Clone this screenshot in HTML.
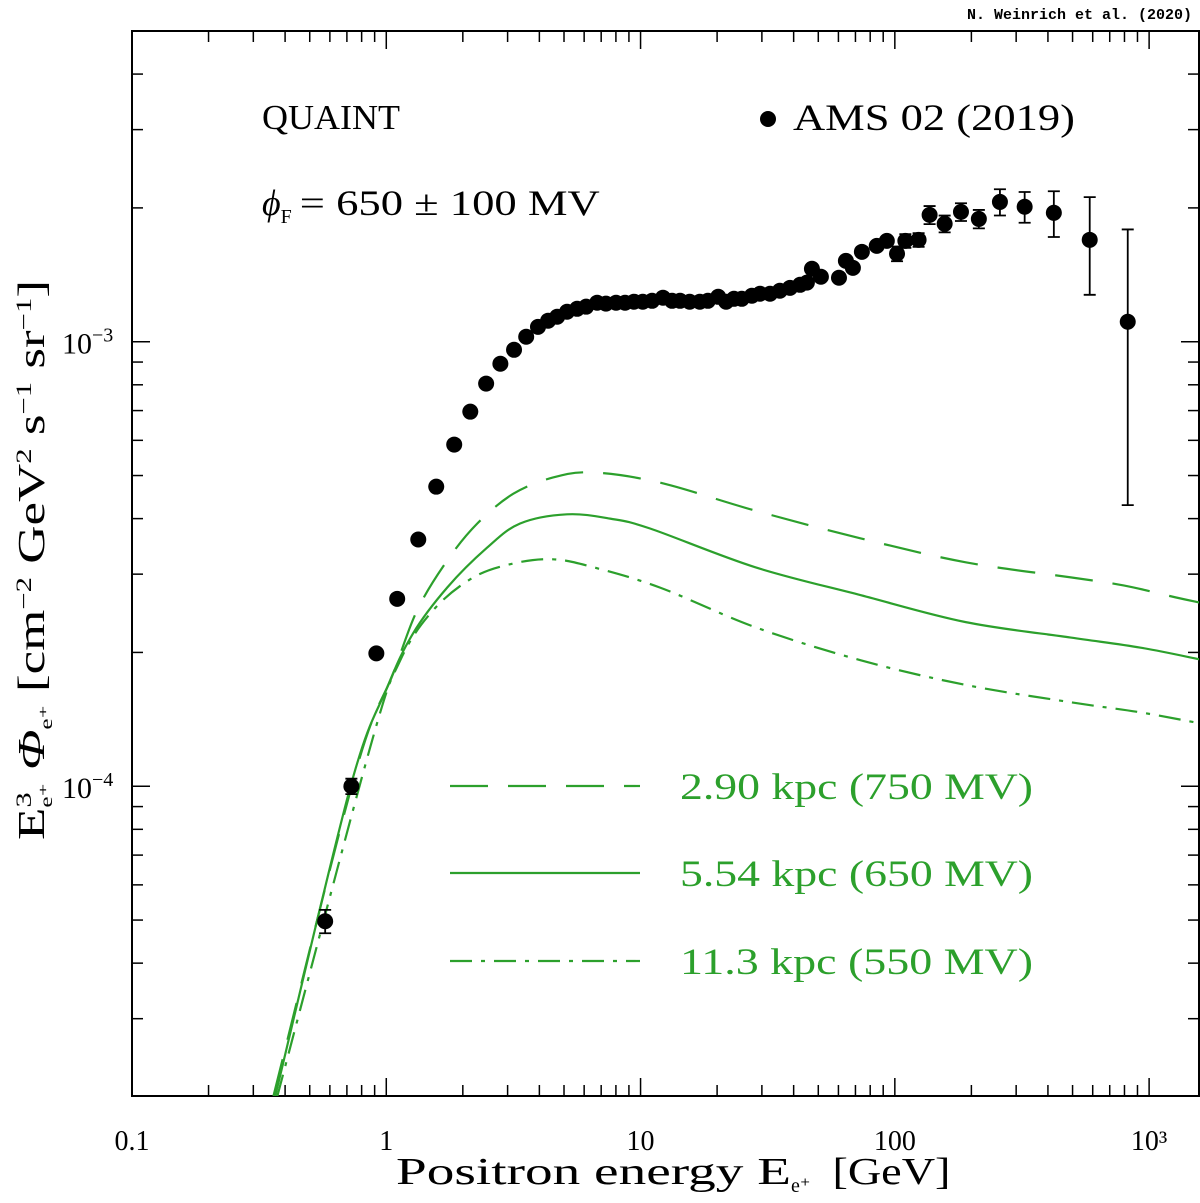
<!DOCTYPE html>
<html><head><meta charset="utf-8"><style>
body{margin:0;background:#fff;}
svg{display:block;font-family:"Liberation Serif",serif;}
</style></head><body>
<svg id="chart" width="1200" height="1203" viewBox="0 0 1200 1203" xmlns="http://www.w3.org/2000/svg">
<text x="1192" y="19" text-anchor="end" font-family="Liberation Mono, monospace" font-size="15" font-weight="bold">N. Weinrich et al. (2020)</text>
<g id="axes"></g>
<g id="curves"></g>
<g id="points"></g>
<text x="262" y="129" font-size="35" textLength="138" lengthAdjust="spacingAndGlyphs">QUAINT</text>
<text x="262" y="215" font-size="36"><tspan font-style="italic">ϕ</tspan><tspan font-size="20" dy="8">F</tspan><tspan dy="-8" dx="8" textLength="300" lengthAdjust="spacingAndGlyphs">= 650 ± 100 MV</tspan></text>
<circle cx="768" cy="119" r="8" fill="#000"/>
<text x="793" y="130" font-size="37" textLength="282" lengthAdjust="spacingAndGlyphs">AMS 02 (2019)</text>
<g id="legend" font-size="37" fill="#2ca02c"></g>
<text x="396" y="1184" font-size="38"><tspan textLength="395" lengthAdjust="spacingAndGlyphs">Positron energy E</tspan><tspan font-size="20" dy="8">e⁺</tspan><tspan dy="-8" dx="22" textLength="118" lengthAdjust="spacingAndGlyphs">[GeV]</tspan></text>
<text transform="translate(44,560) rotate(-90)" text-anchor="middle" font-size="38" textLength="560" lengthAdjust="spacingAndGlyphs">E<tspan font-size="22" dy="-13">3</tspan><tspan font-size="18" dx="-11" dy="21">e⁺</tspan><tspan dy="-8" font-style="italic"> Φ</tspan><tspan font-size="18" dy="8">e⁺</tspan><tspan dy="-8">   [cm</tspan><tspan font-size="22" dy="-13">−2</tspan><tspan dy="13"> GeV</tspan><tspan font-size="22" dy="-13">2</tspan><tspan dy="13"> s</tspan><tspan font-size="22" dy="-13">−1</tspan><tspan dy="13"> sr</tspan><tspan font-size="22" dy="-13">−1</tspan><tspan dy="13">]</tspan></text>
</svg>
<script>
// ---- data ----
const dataE = [0.575,0.729,0.914,1.104,1.336,1.572,1.85,2.14,2.47,2.81,3.18,3.55,3.95,4.33,4.70,5.14,5.63,6.11,6.75,7.31,8.01,8.69,9.42,10.2,11.1,12.25,13.3,14.3,15.6,17.1,18.4,20.2,21.7,23.3,25.0,27.4,29.5,32.3,35.3,38.7,42.4,45.1,47.2,51.2,60.3,64.2,68.4,74.2,84.9,93.0,102,110,124,137,157,182,214,259,324,422,584,824];
const dataFlux = [0.0497,0.100,0.199,0.264,0.359,0.472,0.587,0.696,0.805,0.892,0.959,1.026,1.08,1.115,1.138,1.168,1.186,1.199,1.224,1.218,1.224,1.224,1.23,1.23,1.236,1.256,1.236,1.236,1.23,1.23,1.236,1.262,1.23,1.249,1.249,1.269,1.282,1.282,1.302,1.322,1.343,1.358,1.459,1.40,1.393,1.52,1.466,1.593,1.643,1.686,1.577,1.686,1.695,1.929,1.842,1.959,1.889,2.063,2.012,1.950,1.695,1.109];
const dataErr = [0.003,0.004,0,0,0,0,0,0,0,0,0,0,0,0,0,0,0,0,0,0,0,0,0,0,0,0,0,0,0,0,0,0,0,0,0,0,0,0,0,0,0,0,0,0,0,0,0,0,0,0,0.06,0.06,0.06,0.09,0.08,0.09,0.09,0.14,0.16,0.23,0.42,0.68];
const dashedE = [0.360,0.755,1.065,1.324,1.737,2.28,3.16,4.53,6.51,11.9,28.2,73.5,190,492,794,1271,1578];
const dashedFlux = [0.0201,0.107,0.1795,0.249,0.322,0.390,0.455,0.495,0.508,0.482,0.417,0.361,0.319,0.295,0.283,0.266,0.259];
const solidE = [0.366,0.722,1.009,1.276,1.737,2.49,3.36,5.14,7.59,10.9,28.2,73.5,190,492,926,1578];
const solidFlux = [0.0201,0.0995,0.167,0.221,0.280,0.344,0.390,0.409,0.400,0.380,0.311,0.269,0.234,0.216,0.205,0.193];
const dashdotE = [0.373,0.865,1.135,1.530,2.20,3.16,4.53,6.51,11.9,28.2,73.5,190,492,926,1578];
const dashdotFlux = [0.0201,0.1225,0.192,0.249,0.295,0.317,0.324,0.311,0.280,0.228,0.192,0.169,0.1545,0.1466,0.1386];
const xTickValues = [0.1,1,10,100,1000];
const xTickLabels = ["0.1","1","10","100","10³"];
const yTickValues = [0.1,1];
const yTickExps = ["−4","−3"];
const legendLabels = ["2.90 kpc (750 MV)","5.54 kpc (650 MV)","11.3 kpc (550 MV)"];
// ---- axes ----
const L=132,R=1199,T=31,B=1096;
const xMin=0.1, xMax=1571, yMin=0.0201, yMax=5.0;
function X(e){return L+(Math.log10(e)-Math.log10(xMin))/(Math.log10(xMax)-Math.log10(xMin))*(R-L);}
function Y(v){return B-(Math.log10(v)-Math.log10(yMin))/(Math.log10(yMax)-Math.log10(yMin))*(B-T);}
const NS="http://www.w3.org/2000/svg";
function mk(tag,attrs,parent){const el=document.createElementNS(NS,tag);for(const k in attrs)el.setAttribute(k,attrs[k]);parent.appendChild(el);return el;}
const axes=document.getElementById('axes');
const frame=mk('rect',{x:L,y:T,width:R-L,height:B-T,fill:'none',stroke:'#000','stroke-width':2},axes);


for(let d=-1;d<=3;d++){for(let m=1;m<=9;m++){const e=m*Math.pow(10,d);if(e>xMax)continue;const x=X(e);const len=m===1?18:11;
const t1=mk('line',{x1:x,y1:B,x2:x,y2:B-len,stroke:'#000','stroke-width':1.5},axes);


const t2=mk('line',{x1:x,y1:T,x2:x,y2:T+len,stroke:'#000','stroke-width':1.5},axes);

}}
xTickValues.forEach((v,i)=>{const t=mk('text',{x:X(v),y:1150,'text-anchor':'middle','font-size':28},axes);t.textContent=xTickLabels[i];

});
for(let d=-2;d<=1;d++){for(let m=1;m<=9;m++){const v=m*Math.pow(10,d);if(v<yMin||v>yMax)continue;const y=Y(v);const len=m===1?18:11;
const t1=mk('line',{x1:L,y1:y,x2:L+len,y2:y,stroke:'#000','stroke-width':1.5},axes);


const t2=mk('line',{x1:R,y1:y,x2:R-len,y2:y,stroke:'#000','stroke-width':1.5},axes);

}}
yTickValues.forEach((v,i)=>{const t=mk('text',{x:62,y:Y(v)+12,'font-size':30},axes);
const a=mk('tspan',{},t);a.textContent='10';
const b=mk('tspan',{'font-size':20,dy:-12},t);b.textContent=yTickExps[i];

});
// curves
const defs=mk('defs',{},document.getElementById('chart'));
const cp=mk('clipPath',{id:'clip'},defs);mk('rect',{x:L,y:T,width:R-L,height:B-T},cp);
function smoothPath(es,vs){const p=es.map((e,i)=>[X(e),Y(vs[i])]);let d='M'+p[0][0]+','+p[0][1];
for(let i=0;i<p.length-1;i++){const p0=p[Math.max(0,i-1)],p1=p[i],p2=p[i+1],p3=p[Math.min(p.length-1,i+2)];
const c1=[p1[0]+(p2[0]-p0[0])/6,p1[1]+(p2[1]-p0[1])/6],c2=[p2[0]-(p3[0]-p1[0])/6,p2[1]-(p3[1]-p1[1])/6];
d+=' C'+c1[0]+','+c1[1]+' '+c2[0]+','+c2[1]+' '+p2[0]+','+p2[1];}return d;}
const curves=document.getElementById('curves');curves.setAttribute('clip-path','url(#clip)');
const green='#2ca02c';
const styles=[{e:dashedE,v:dashedFlux,dash:'38,20',name:'curve-2.90kpc'},{e:solidE,v:solidFlux,dash:'',name:'curve-5.54kpc'},{e:dashdotE,v:dashdotFlux,dash:'22,9,4,9',name:'curve-11.3kpc'}];
styles.forEach(s=>{const p=mk('path',{d:smoothPath(s.e,s.v),fill:'none',stroke:green,'stroke-width':2.2,'stroke-dasharray':s.dash},curves);

});
const legend=document.getElementById('legend');
[786,873,961].forEach((y,i)=>{const ln=mk('line',{x1:450,y1:y,x2:640,y2:y,stroke:green,'stroke-width':2.2,'stroke-dasharray':styles[i].dash},legend);


const t=mk('text',{x:680,y:y+13,textLength:353,lengthAdjust:'spacingAndGlyphs'},legend);t.textContent=legendLabels[i];

});
const pts=document.getElementById('points');
dataE.forEach((e,i)=>{const x=X(e),y=Y(dataFlux[i]);
if(dataErr[i]>0){const yh=Y(dataFlux[i]+dataErr[i]),yl=Y(Math.max(dataFlux[i]-dataErr[i],yMin));
const eb=mk('path',{d:`M${x},${yh}V${yl}M${x-6},${yh}H${x+6}M${x-6},${yl}H${x+6}`,stroke:'#000','stroke-width':1.8,fill:'none'},pts);

}
const c=mk('circle',{cx:x,cy:y,r:8,fill:'#000'},pts);

});
</script>
</body></html>
